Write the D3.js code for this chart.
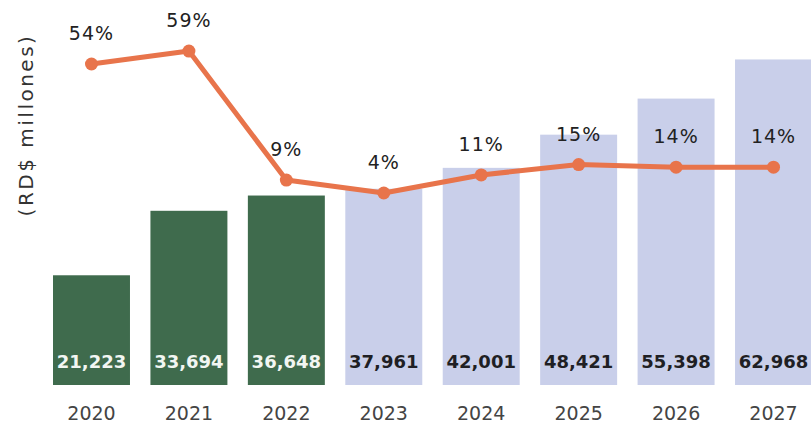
<!DOCTYPE html>
<html lang="es">
  <head>
    <meta charset="utf-8" />
    <title>RD$ millones</title>
    <script src="https://d3js.org/d3.v7.min.js"></script>
    <style type="text/css">
      body { margin: 0; background: #fff; }
      svg text { font-family: "DejaVu Sans", Verdana, sans-serif; }
    </style>
  </head>
  <body>
    <script type="text/javascript">
      //Width and height
      var w = 811;
      var h = 425;

      var years = ["2020", "2021", "2022", "2023", "2024", "2025", "2026", "2027"];
      var amounts = [21223, 33694, 36648, 37961, 42001, 48421, 55398, 62968];
      var growth = [54, 59, 9, 4, 11, 15, 14, 14];
      var actualYears = ["2020", "2021", "2022"];

      var xScale = d3.scaleBand()
        .domain(years)
        .range([53, 812])
        .paddingInner(0.21)
        .paddingOuter(0);

      var yScale = d3.scaleLinear()
        .domain([0, 60000])
        .range([385, 74.8]);

      var pScale = d3.scaleLinear()
        .domain([0, 60])
        .range([203.3, 48.5]);

      var svg = d3.select("body")
        .append("svg")
        .attr("width", w)
        .attr("height", h);

      //Bars
      svg.selectAll("rect.bar")
        .data(amounts)
        .enter()
        .append("rect")
        .attr("class", "bar")
        .attr("x", function (d, i) { return xScale(years[i]); })
        .attr("y", function (d) { return yScale(d); })
        .attr("width", xScale.bandwidth())
        .attr("height", function (d) { return yScale(0) - yScale(d); })
        .attr("fill", function (d, i) {
          return actualYears.indexOf(years[i]) >= 0 ? "#3f6b4d" : "#c9cfea";
        });

      //Value labels inside bars
      svg.selectAll("text.val")
        .data(amounts)
        .enter()
        .append("text")
        .attr("class", "val")
        .attr("x", function (d, i) { return xScale(years[i]) + xScale.bandwidth() / 2; })
        .attr("y", 368)
        .attr("text-anchor", "middle")
        .attr("font-size", "18px")
        .attr("font-weight", "bold")
        .attr("fill", function (d, i) {
          return actualYears.indexOf(years[i]) >= 0 ? "#f2f6f2" : "#1f1f24";
        })
        .text(function (d) { return d3.format(",")(d); });

      //Year labels
      svg.selectAll("text.year")
        .data(years)
        .enter()
        .append("text")
        .attr("class", "year")
        .attr("x", function (d) { return xScale(d) + xScale.bandwidth() / 2; })
        .attr("y", 420)
        .attr("text-anchor", "middle")
        .attr("font-size", "19px")
        .attr("fill", "#444")
        .text(function (d) { return d; });

      //Growth line
      var line = d3.line()
        .x(function (d, i) { return xScale(years[i]) + xScale.bandwidth() / 2; })
        .y(function (d) { return pScale(d); });

      svg.append("path")
        .datum(growth)
        .attr("d", line)
        .attr("fill", "none")
        .attr("stroke", "#e8744b")
        .attr("stroke-width", 5)
        .attr("stroke-linejoin", "round");

      svg.selectAll("circle.pt")
        .data(growth)
        .enter()
        .append("circle")
        .attr("class", "pt")
        .attr("cx", function (d, i) { return xScale(years[i]) + xScale.bandwidth() / 2; })
        .attr("cy", function (d) { return pScale(d); })
        .attr("r", 6.5)
        .attr("fill", "#e8744b");

      svg.selectAll("text.pct")
        .data(growth)
        .enter()
        .append("text")
        .attr("class", "pct")
        .attr("x", function (d, i) { return xScale(years[i]) + xScale.bandwidth() / 2; })
        .attr("y", function (d) { return pScale(d) - 24; })
        .attr("text-anchor", "middle")
        .attr("font-size", "19px")
        .attr("letter-spacing", "1px")
        .attr("fill", "#222")
        .text(function (d) { return d + "%"; });

      //Axis title
      svg.append("text")
        .attr("transform", "translate(26,125) rotate(-90)")
        .attr("text-anchor", "middle")
        .attr("dominant-baseline", "central")
        .attr("font-size", "20px")
        .attr("letter-spacing", "2.5px")
        .attr("fill", "#333")
        .text("(RD$ millones)");
    </script>
  </body>
</html>
